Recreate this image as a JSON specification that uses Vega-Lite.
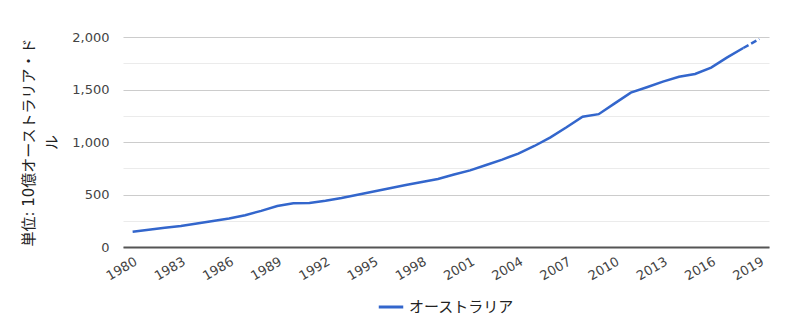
{
  "$schema": "https://vega.github.io/schema/vega-lite/v6.json",
  "width": 646,
  "height": 210,
  "autosize": {"type": "none"},
  "padding": {"left": 123, "top": 37, "right": 25, "bottom": 86},
  "background": "white",
  "config": {
    "font": "DejaVu Sans, Noto Sans CJK JP",
    "view": {"stroke": null},
    "legend": {"layout": {"bottom": {"anchor": "middle"}}}
  },
  "data": {
    "values": [
      {"year": 1980, "value": 146, "country": "オーストラリア"},
      {"year": 1981, "value": 164, "country": "オーストラリア"},
      {"year": 1982, "value": 184, "country": "オーストラリア"},
      {"year": 1983, "value": 200, "country": "オーストラリア"},
      {"year": 1984, "value": 224, "country": "オーストラリア"},
      {"year": 1985, "value": 248, "country": "オーストラリア"},
      {"year": 1986, "value": 271, "country": "オーストラリア"},
      {"year": 1987, "value": 303, "country": "オーストラリア"},
      {"year": 1988, "value": 344, "country": "オーストラリア"},
      {"year": 1989, "value": 390, "country": "オーストラリア"},
      {"year": 1990, "value": 416, "country": "オーストラリア"},
      {"year": 1991, "value": 419, "country": "オーストラリア"},
      {"year": 1992, "value": 440, "country": "オーストラリア"},
      {"year": 1993, "value": 466, "country": "オーストラリア"},
      {"year": 1994, "value": 497, "country": "オーストラリア"},
      {"year": 1995, "value": 528, "country": "オーストラリア"},
      {"year": 1996, "value": 559, "country": "オーストラリア"},
      {"year": 1997, "value": 590, "country": "オーストラリア"},
      {"year": 1998, "value": 619, "country": "オーストラリア"},
      {"year": 1999, "value": 648, "country": "オーストラリア"},
      {"year": 2000, "value": 690, "country": "オーストラリア"},
      {"year": 2001, "value": 730, "country": "オーストラリア"},
      {"year": 2002, "value": 781, "country": "オーストラリア"},
      {"year": 2003, "value": 832, "country": "オーストラリア"},
      {"year": 2004, "value": 890, "country": "オーストラリア"},
      {"year": 2005, "value": 962, "country": "オーストラリア"},
      {"year": 2006, "value": 1044, "country": "オーストラリア"},
      {"year": 2007, "value": 1140, "country": "オーストラリア"},
      {"year": 2008, "value": 1241, "country": "オーストラリア"},
      {"year": 2009, "value": 1265, "country": "オーストラリア"},
      {"year": 2010, "value": 1368, "country": "オーストラリア"},
      {"year": 2011, "value": 1470, "country": "オーストラリア"},
      {"year": 2012, "value": 1521, "country": "オーストラリア"},
      {"year": 2013, "value": 1575, "country": "オーストラリア"},
      {"year": 2014, "value": 1622, "country": "オーストラリア"},
      {"year": 2015, "value": 1648, "country": "オーストラリア"},
      {"year": 2016, "value": 1708, "country": "オーストラリア"},
      {"year": 2017, "value": 1806, "country": "オーストラリア"},
      {"year": 2018, "value": 1895, "country": "オーストラリア"},
      {"year": 2019, "value": 1981, "country": "オーストラリア"}
    ]
  },
  "encoding": {
    "x": {
      "field": "year",
      "type": "quantitative",
      "scale": {"domain": [1979.4, 2019.6], "nice": false, "zero": false},
      "axis": {
        "title": null,
        "values": [1980, 1983, 1986, 1989, 1992, 1995, 1998, 2001, 2004, 2007, 2010, 2013, 2016, 2019],
        "format": "d",
        "labelAngle": -30,
        "labelAlign": "right",
        "labelBaseline": "top",
        "labelPadding": 8,
        "labelFontSize": 13,
        "labelColor": "#444444",
        "ticks": false,
        "grid": false,
        "domainColor": "#555555",
        "domainWidth": 2,
        "labelOverlap": false,
        "labelFlush": false
      }
    },
    "y": {
      "field": "value",
      "type": "quantitative",
      "scale": {"domain": [0, 2000], "nice": false},
      "axis": {
        "title": ["単位: 10億オーストラリア・ド", "ル"],
        "titleFontSize": 15,
        "titleFontWeight": "normal",
        "titleColor": "#222222",
        "titlePadding": 12,
        "titleLineHeight": 23,
        "values": [0, 250, 500, 750, 1000, 1250, 1500, 1750, 2000],
        "labelExpr": "datum.value % 500 == 0 ? format(datum.value, ',') : ''",
        "labelFontSize": 13,
        "labelColor": "#444444",
        "labelPadding": 14,
        "ticks": false,
        "domain": false,
        "gridColor": {"condition": {"test": "datum.value % 500 == 0", "value": "#cccccc"}, "value": "#ebebeb"},
        "gridWidth": 1.2
      }
    },
    "color": {
      "field": "country",
      "type": "nominal",
      "scale": {"range": ["#3366cc"]},
      "legend": {
        "title": null,
        "orient": "bottom",
        "direction": "horizontal",
        "symbolType": "stroke",
        "symbolStrokeWidth": 3,
        "symbolSize": 600,
        "labelFontSize": 15,
        "labelColor": "#222222",
        "offset": 10
      }
    }
  },
  "layer": [
    {
      "transform": [{"filter": "datum.year <= 2018"}],
      "mark": {"type": "line", "strokeWidth": 2.5}
    },
    {
      "transform": [{"filter": "datum.year >= 2018"}],
      "mark": {"type": "line", "strokeWidth": 2.5, "strokeDash": [6, 3]}
    }
  ]
}
